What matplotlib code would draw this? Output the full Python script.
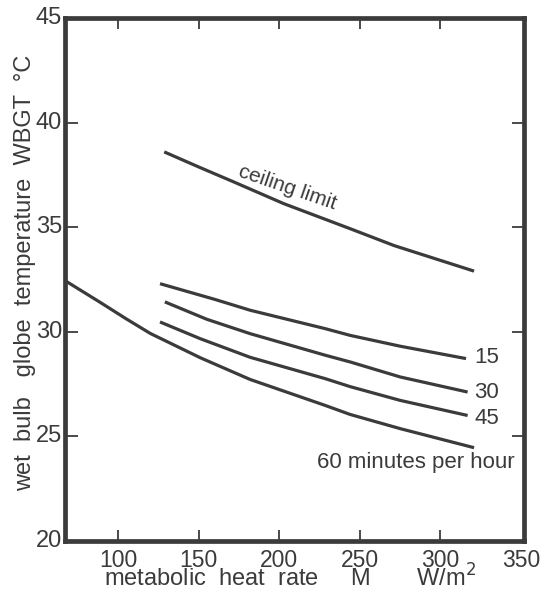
import matplotlib
matplotlib.use("Agg")
import matplotlib.pyplot as plt

# ---- data ----
ceiling_x = [128.6, 150.0, 171.6, 202.7, 244.0, 271.4, 321.0]
ceiling_y = [38.6, 37.88, 37.17, 36.13, 34.93, 34.12, 32.9]

m15_x = [126.0, 160.0, 182.0, 228.6, 244.0, 275.2, 316.0]
m15_y = [32.3, 31.55, 31.03, 30.15, 29.83, 29.31, 28.72]

m30_x = [129.0, 155.0, 182.0, 228.6, 244.0, 275.2, 317.0]
m30_y = [31.43, 30.6, 29.91, 28.88, 28.56, 27.84, 27.12]

m45_x = [126.0, 151.0, 182.0, 228.6, 244.0, 275.2, 317.0]
m45_y = [30.47, 29.67, 28.78, 27.76, 27.38, 26.72, 26.0]

m60_x = [68.0, 89.0, 105.0, 120.0, 151.0, 182.0, 228.6, 244.0, 275.2, 321.0]
m60_y = [32.4, 31.4, 30.62, 29.92, 28.76, 27.72, 26.48, 26.05, 25.37, 24.46]

x_ticks = [100, 150, 200, 250, 300]
x_ticklabels = ["100", "150", "200", "250", "300", "350"]
y_ticks = [20, 25, 30, 35, 40, 45]

curve_labels = ["15", "30", "45", "60 minutes per hour"]

INK = "#3b3b3b"
FONT = ["Liberation Sans Narrow", "Liberation Sans", "DejaVu Sans"]
plt.rcParams["font.family"] = FONT

fig = plt.figure(figsize=(5.44, 5.91), dpi=100)
ax = fig.add_axes([65 / 544, 1 - 541 / 591, (524 - 65) / 544, (541 - 18) / 591])

lw = 2.3
for xs, ys in [(ceiling_x, ceiling_y), (m15_x, m15_y), (m30_x, m30_y),
               (m45_x, m45_y), (m60_x, m60_y)]:
    ax.plot(xs, ys, color=INK, lw=lw, solid_capstyle="butt",
            solid_joinstyle="round", clip_on=False)

ax.set_xlim(67, 352)
ax.set_ylim(20, 45)

for s in ax.spines.values():
    s.set_linewidth(3.4)
    s.set_color(INK)

# x ticks (inward, top and bottom)
ax.set_xticks(x_ticks)
ax.set_xticklabels([])
ax.tick_params(axis="x", direction="in", top=True, bottom=True, length=8,
               width=1.3, color=INK)
ax.set_yticks(y_ticks[1:-1])
ax.set_yticklabels([])
ax.tick_params(axis="y", direction="in", left=True, right=True, length=9,
               width=1.3, color=INK)

# tick labels as text through axis transforms
xtrans = ax.get_xaxis_transform()
for v, lab in zip(x_ticks + [350], x_ticklabels):
    ax.text(v, -0.015, lab, transform=xtrans, ha="center", va="top",
            fontsize=16.5, color=INK)
ytrans = ax.get_yaxis_transform()
for v in y_ticks:
    ax.text(-0.006, v, str(v), transform=ytrans, ha="right", va="center",
            fontsize=17, color=INK)

ax.text(0.49, -0.087, "metabolic  heat  rate     M       W/m$^2$",
        transform=ax.transAxes, ha="center", va="baseline", fontsize=17,
        color=INK)
ax.text(-0.088, 0.513, "wet  bulb   globe  temperature  WBGT  °C",
        transform=ax.transAxes, ha="center", va="center", rotation=90,
        fontsize=17, color=INK)

# curve labels
ax.text(205, 36.9, "ceiling limit", rotation=-19, rotation_mode="anchor",
        ha="center", va="center", fontsize=15, color=INK)
ax.text(329, 28.78, curve_labels[0], ha="center", va="center", fontsize=16, color=INK)
ax.text(329, 27.11, curve_labels[1], ha="center", va="center", fontsize=16, color=INK)
ax.text(329, 25.86, curve_labels[2], ha="center", va="center", fontsize=16, color=INK)
ax.text(346, 23.76, curve_labels[3], ha="right", va="center", fontsize=16, color=INK)

fig.savefig("out.png", dpi=100)
